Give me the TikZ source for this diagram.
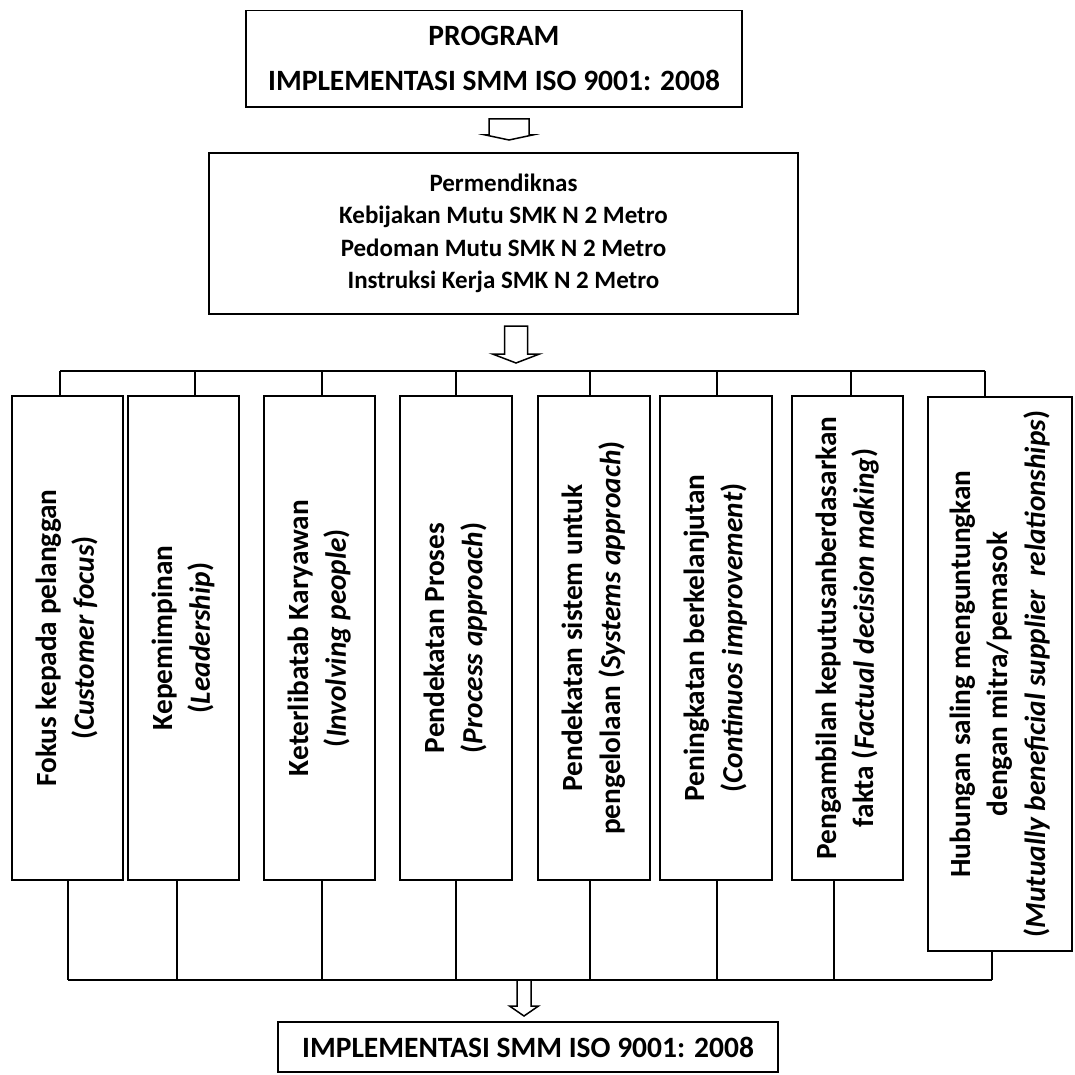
\documentclass[tikz,border=0pt]{standalone}
\usepackage{fontspec}
\setmainfont{Carlito}
\usepackage{graphicx}
\newcommand{\vtext}[1]{\rotatebox{90}{\begin{tabular}{@{}c@{}}#1\end{tabular}}}

\begin{document}
\begin{tikzpicture}
[x=1pt, y=-1pt, line width=1.7pt,
 every node/.style={inner sep=0pt},
 box/.style={rectangle, draw=black, line width=1.7pt, align=center},
 pillar/.style={rectangle, draw=black, line width=1.7pt, minimum width=111.5pt, minimum height=484pt, font=\fontsize{29.3}{37.5}\selectfont\bfseries},
 hollowarrow/.style={draw=black, line width=1.5pt, line join=miter}]
\useasboundingbox (0,0) rectangle (1075,1075);
\node (program) [box, minimum width=496pt, minimum height=96.5pt, font=\fontsize{29.5}{45}\selectfont\bfseries] at (494, 58.75) {PROGRAM\\IMPLEMENTASI SMM ISO 9001: 2008};
\node (pedoman) [box, minimum width=589pt, minimum height=161pt, font=\fontsize{25}{32.5}\selectfont\bfseries] at (503.5, 233.5) {Permendiknas\\Kebijakan Mutu SMK N 2 Metro\\Pedoman Mutu SMK N 2 Metro\\Instruksi Kerja SMK N 2 Metro};
\node (b1) [pillar] at (67.5, 638) {\vtext{Fokus kepada pelanggan\\(\textit{Customer focus})}};
\node (b2) [pillar] at (183.5, 638) {\vtext{Kepemimpinan\\(\textit{Leadership})}};
\node (b3) [pillar] at (319.5, 638) {\vtext{Keterlibatab Karyawan\\(\textit{Involving people})}};
\node (b4) [pillar] at (456, 638) {\vtext{Pendekatan Proses\\(\textit{Process approach})}};
\node (b5) [pillar] at (594, 638) {\vtext{Pendekatan sistem untuk\\pengelolaan (\textit{Systems approach})}};
\node (b6) [pillar] at (716, 638) {\vtext{Peningkatan berkelanjutan\\(\textit{Continuos improvement})}};
\node (b7) [pillar] at (847.5, 638) {\vtext{Pengambilan keputusanberdasarkan\\fakta (\textit{Factual decision making})}};
\node (b8) [pillar, minimum width=144pt, minimum height=554pt] at (1000, 674) {\vtext{Hubungan saling menguntungkan\\dengan mitra/pemasok\\(\textit{Mutually beneficial supplier\ \ relationships})}};
\node (hasil) [box, minimum width=500pt, minimum height=50pt, font=\fontsize{29.5}{34}\selectfont\bfseries] at (528, 1047) {IMPLEMENTASI SMM ISO 9001: 2008};
\coordinate (a1) at (509, 119);
\coordinate (a2) at (516, 326);
\coordinate (a3) at (524, 980);
\draw [hollowarrow] (a1) ++(-20,0) -- ++(40,0) -- ++(0,16) -- ++(3.5,0) -- ++(-23.5,5) -- ++(-23.5,-5) -- ++(3.5,0) -- cycle;
\draw [hollowarrow] (a2) ++(-11.5,0) -- ++(23,0) -- ++(0,28) -- ++(12,0) -- ++(-23.5,9) -- ++(-23.5,-9) -- ++(12,0) -- cycle;
\draw [hollowarrow] (a3) ++(-7,0) -- ++(14,0) -- ++(0,26) -- ++(7.5,0) -- ++(-14.5,10) -- ++(-14.5,-10) -- ++(7.5,0) -- cycle;
\coordinate (topbus) at (0, 371);
\coordinate (lowbus) at (0, 980);
\draw ([xshift=-7.5pt]b1.north |- topbus) -- ([xshift=-15pt]b8.north |- topbus);
\draw ([xshift=-7.5pt]b1.north) -- ([xshift=-7.5pt]b1.north |- topbus);
\draw ([xshift=11.5pt]b2.north) -- ([xshift=11.5pt]b2.north |- topbus);
\draw ([xshift=2.5pt]b3.north) -- ([xshift=2.5pt]b3.north |- topbus);
\draw (b4.north) -- (b4.north |- topbus);
\draw ([xshift=-4pt]b5.north) -- ([xshift=-4pt]b5.north |- topbus);
\draw ([xshift=1pt]b6.north) -- ([xshift=1pt]b6.north |- topbus);
\draw ([xshift=3.5pt]b7.north) -- ([xshift=3.5pt]b7.north |- topbus);
\draw ([xshift=-15pt]b8.north) -- ([xshift=-15pt]b8.north |- topbus);
\draw ([xshift=0.5pt]b1.south |- lowbus) -- ([xshift=-8pt]b8.south |- lowbus);
\draw ([xshift=0.5pt]b1.south) -- ([xshift=0.5pt]b1.south |- lowbus);
\draw ([xshift=-6.5pt]b2.south) -- ([xshift=-6.5pt]b2.south |- lowbus);
\draw ([xshift=2.5pt]b3.south) -- ([xshift=2.5pt]b3.south |- lowbus);
\draw (b4.south) -- (b4.south |- lowbus);
\draw ([xshift=-4pt]b5.south) -- ([xshift=-4pt]b5.south |- lowbus);
\draw ([xshift=1pt]b6.south) -- ([xshift=1pt]b6.south |- lowbus);
\draw ([xshift=-13.5pt]b7.south) -- ([xshift=-13.5pt]b7.south |- lowbus);
\draw ([xshift=-8pt]b8.south) -- ([xshift=-8pt]b8.south |- lowbus);
\end{tikzpicture}
\end{document}
